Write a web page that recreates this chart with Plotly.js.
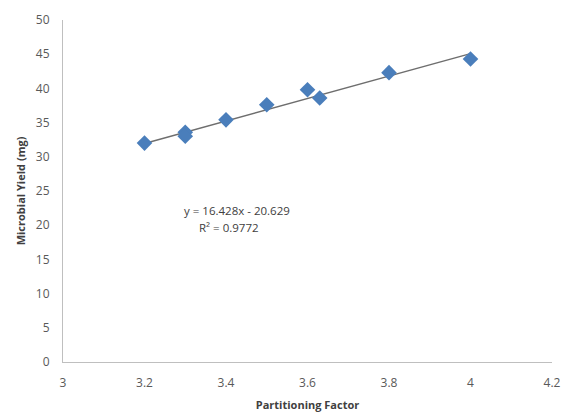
<!DOCTYPE html>
<html>
<head>
<meta charset="utf-8">
<script src="https://cdn.plot.ly/plotly-3.0.1.min.js"></script>
<style>html,body{margin:0;padding:0;background:#fff;}#chart{width:564px;height:414px;}</style>
</head>
<body>
<div id="chart"></div>
<script>
const partitioningFactor = [3.2, 3.3, 3.3, 3.4, 3.5, 3.6, 3.63, 3.8, 4.0];
const microbialYield = [32.0, 33.6, 33.0, 35.4, 37.6, 39.8, 38.6, 42.3, 44.3];
const slope = 16.428;
const intercept = -20.629;
const rSquared = 0.9772;
const trendX = [Math.min(...partitioningFactor), Math.max(...partitioningFactor)];
const trendY = trendX.map(x => slope * x + intercept);
const xTicks = [3, 3.2, 3.4, 3.6, 3.8, 4, 4.2];
const yTicks = [0, 5, 10, 15, 20, 25, 30, 35, 40, 45, 50];

const font = "Open Sans, Liberation Sans, sans-serif";
const data = [
  {x: trendX, y: trendY, mode: 'lines', type: 'scatter',
   line: {color: '#6e6e6e', width: 1.5}, hoverinfo: 'skip', showlegend: false},
  {x: partitioningFactor, y: microbialYield, mode: 'markers', type: 'scatter',
   marker: {symbol: 'diamond', size: 12, color: '#4a7ebb'}, showlegend: false}
];
const layout = {
  width: 564, height: 414,
  margin: {l: 63, r: 12, t: 20, b: 52},
  paper_bgcolor: '#fff', plot_bgcolor: '#fff',
  font: {family: font, color: '#595959', size: 12},
  xaxis: {range: [3, 4.2], tickvals: xTicks, ticktext: xTicks.map(String),
    showgrid: false, zeroline: false, showline: true, linecolor: '#bfbfbf', linewidth: 1,
    ticks: '', ticklabelstandoff: 10, tickfont: {size: 12, color: '#595959'},
    title: {text: '<b>Partitioning Factor</b>', font: {size: 11, color: '#404040'}, standoff: 10}},
  yaxis: {range: [0, 50], tickvals: yTicks, showgrid: false, zeroline: false,
    showline: true, linecolor: '#bfbfbf', linewidth: 1, ticks: '', ticklabelstandoff: 10,
    tickfont: {size: 12, color: '#595959'},
    title: {text: '<b>Microbial Yield (mg)</b>', font: {size: 11, color: '#404040'}, standoff: 8}},
  annotations: [
    {x: 3.427, y: 22.2, xref: 'x', yref: 'y', text: 'y = ' + slope + 'x - ' + Math.abs(intercept),
     showarrow: false, font: {size: 11.5, color: '#404040'}},
    {x: 3.407, y: 19.6, xref: 'x', yref: 'y', text: 'R² = ' + rSquared,
     showarrow: false, font: {size: 11.5, color: '#404040'}}
  ]
};
Plotly.newPlot('chart', data, layout, {displayModeBar: false, staticPlot: true});
</script>
</body>
</html>
